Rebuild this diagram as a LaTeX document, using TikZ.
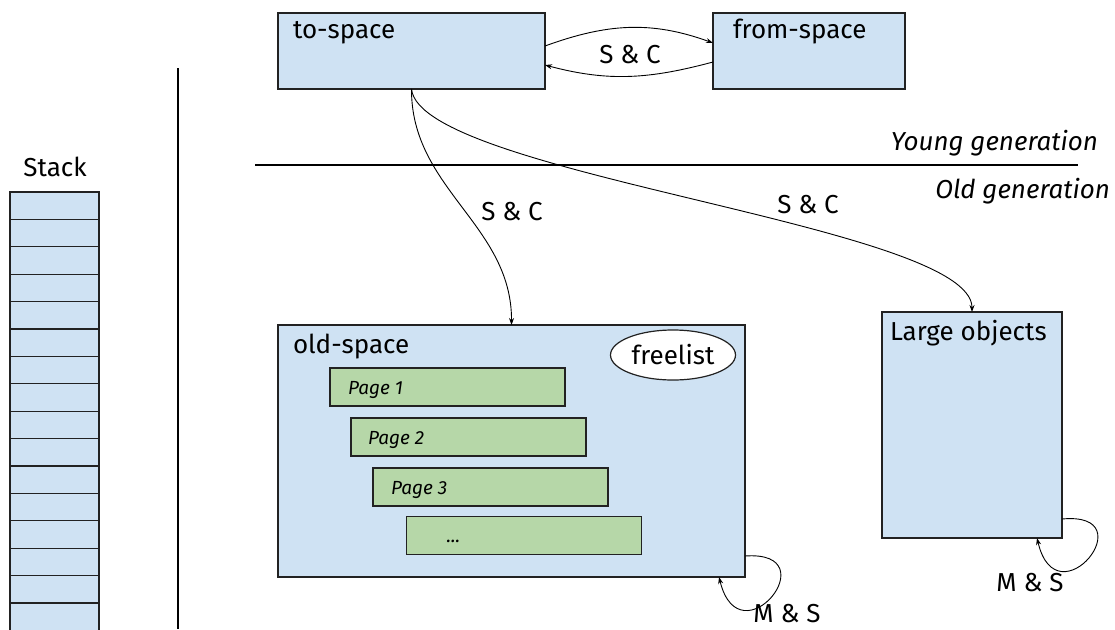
\documentclass[tikz,border=0pt]{standalone}
\usepackage{fontspec}
\setmainfont{Fira Sans}
\usetikzlibrary{arrows.meta,shapes.geometric}
\definecolor{boxblue}{HTML}{CFE2F3}
\definecolor{pagegreen}{HTML}{B6D7A8}
\definecolor{edge}{HTML}{222222}
\begin{document}
\begin{tikzpicture}[x=1pt,y=-1pt,
  every node/.style={inner sep=0pt,outer sep=0pt},
  box/.style={draw=edge,fill=boxblue,line width=1.2pt,rectangle},
  pagebox/.style={draw=edge,fill=pagegreen,line width=1.2pt,rectangle,minimum width=235pt,minimum height=38pt},
  cell/.style={draw=edge,fill=boxblue,line width=1.2pt,rectangle,minimum width=89pt,minimum height=27.4pt},
  txt/.style={font=\fontsize{26}{30}\selectfont},
  ptxt/.style={font=\fontsize{19}{22}\selectfont\itshape},
  conn/.style={draw=black,line width=0.9pt,-{Stealth[length=7pt,width=5pt]}},
  sep/.style={line width=2pt}]
\useasboundingbox (0,0) rectangle (1115,629);
% stack
\node[txt,anchor=base] (stacklbl) at (55,176) {Stack};
\foreach \i in {1,...,16}{
  \node[cell] (s\i) at (54.5,{192+13.7+27.4*(\i-1)}) {};
}
% separators
\draw[sep] (178,68) -- (178,629);
\draw[sep] (255,165) -- (1078,165);
\node[txt,anchor=base east,font=\fontsize{26}{30}\selectfont\itshape] (young) at (1098,150) {Young generation};
\node[txt,anchor=base east,font=\fontsize{26}{30}\selectfont\itshape] (oldg) at (1110,198) {Old generation};
% young spaces
\node[box,minimum width=267pt,minimum height=76pt] (to) at (411.5,51) {};
\node[txt,anchor=base west] (tolbl) at ([xshift=15pt,yshift=-25pt]to.north west) {to-space};
\node[box,minimum width=192pt,minimum height=76pt] (from) at (809,51) {};
\node[txt,anchor=base west] (fromlbl) at ([xshift=20pt,yshift=-25pt]from.north west) {from-space};
\draw[conn] ([yshift=5pt]to.east) to[out=20,in=160] ([yshift=8pt]from.west);
\draw[conn] ([yshift=-11pt]from.west) to[out=195,in=-15] ([yshift=-14pt]to.east);
\node[txt] (sc1) at (630,55) {S \& C};
% old space
\node[box,minimum width=467pt,minimum height=252pt] (old) at (511.5,451) {};
\node[txt,anchor=base west] (oldlbl) at ([xshift=15pt,yshift=-28pt]old.north west) {old-space};
\node[draw=edge,fill=white,line width=1.2pt,ellipse,minimum width=125pt,minimum height=50pt,txt] (free) at (673,355) {freelist};
\node[pagebox] (p1) at (447.5,387) {};
\node[ptxt,anchor=base west] (p1l) at ([xshift=18pt,yshift=-7pt]p1.west) {Page 1};
\node[pagebox] (p2) at (468.5,437) {};
\node[ptxt,anchor=base west] (p2l) at ([xshift=17pt,yshift=-7pt]p2.west) {Page 2};
\node[pagebox] (p3) at (490.5,487) {};
\node[ptxt,anchor=base west] (p3l) at ([xshift=18pt,yshift=-7pt]p3.west) {Page 3};
\node[pagebox] (p4) at (524,535.5) {};
\node[ptxt,anchor=base west] (p4l) at ([xshift=40pt,yshift=-7pt]p4.west) {...};
% large objects
\node[box,minimum width=180pt,minimum height=226pt] (large) at (972,425) {};
\node[txt,anchor=base west] (largelbl) at ([xshift=8pt,yshift=-28pt]large.north west) {Large objects};
% promotions
\draw[conn] (to.south) .. controls (411,189) and (512,225) .. (old.north);
\node[txt] (sc2) at (512,212) {S \& C};
\draw[conn] (to.south) .. controls (420,175) and (972,225) .. (large.north);
\node[txt] (sc3) at (808,205) {S \& C};
% mark & sweep loops
\draw[conn] ([yshift=21pt]old.south east) .. controls ([xshift=85pt,yshift=27pt]old.south east) and ([xshift=-5pt,yshift=-85pt]old.south east) .. ([xshift=-26pt]old.south east);
\node[txt] (ms1) at (787,614) {M \& S};
\draw[conn] ([yshift=19pt]large.south east) .. controls ([xshift=85pt,yshift=27pt]large.south east) and ([xshift=-5pt,yshift=-85pt]large.south east) .. ([xshift=-25pt]large.south east);
\node[txt] (ms2) at (1030,583) {M \& S};
\end{tikzpicture}
\end{document}
